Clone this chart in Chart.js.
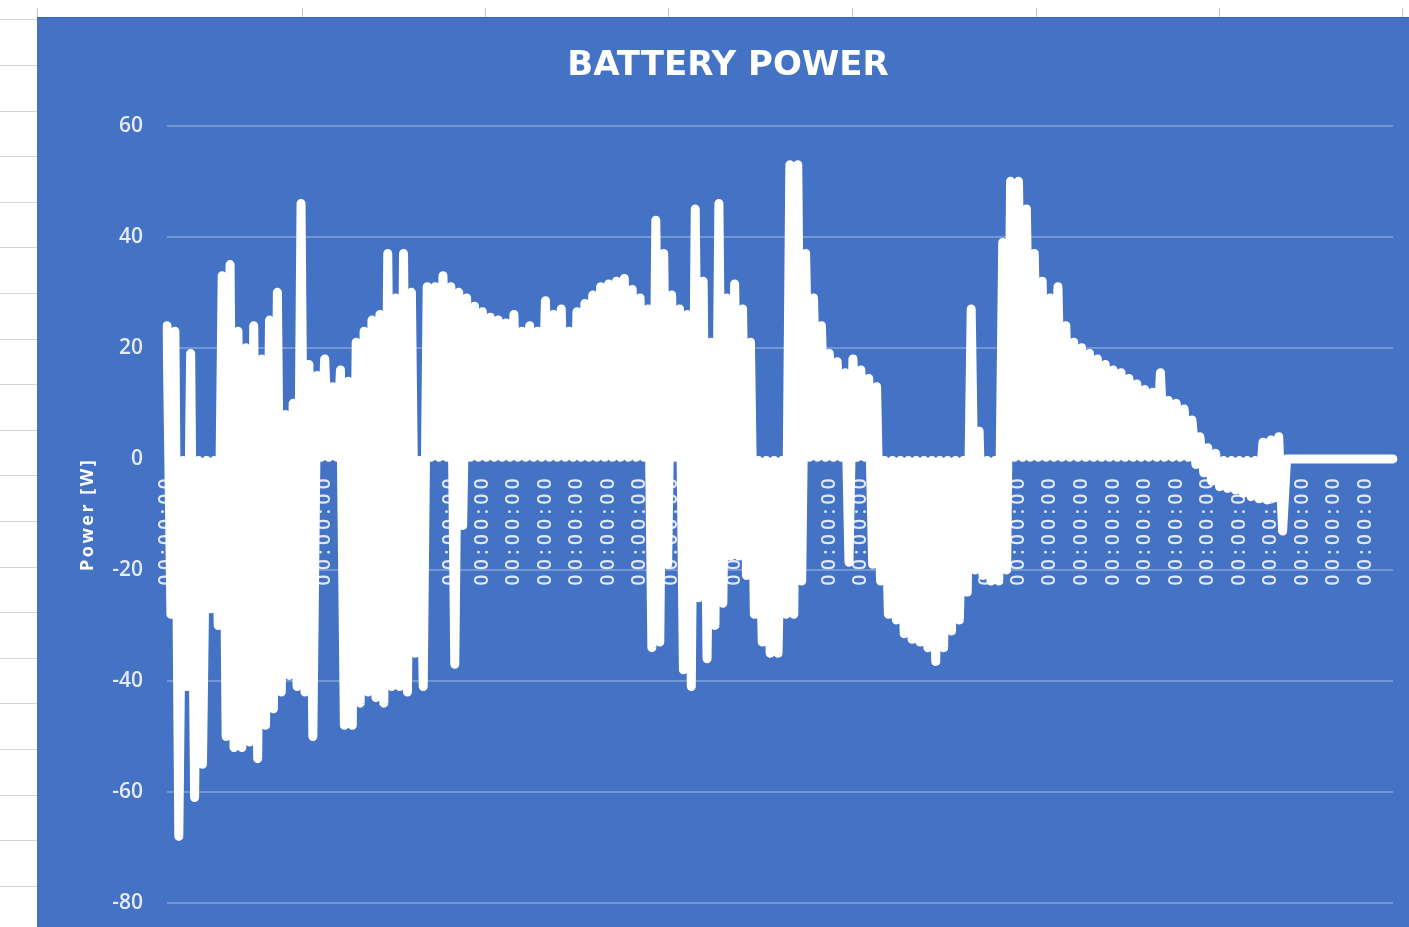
<!DOCTYPE html>
<html>
<head>
<meta charset="utf-8">
<script src="https://cdn.jsdelivr.net/npm/chart.js@4.4.1/dist/chart.umd.min.js"></script>
<style>
  html, body { margin: 0; padding: 0; background: #ffffff; width: 1409px; height: 927px; overflow: hidden; }
  #sheetLeft { position: absolute; left: 0; top: 17px; width: 37px; height: 910px;
    background: repeating-linear-gradient(to bottom, transparent 0px, transparent 2.4px, #d4d4d4 2.4px, #d4d4d4 3.4px, transparent 3.4px, transparent 45.6px); }
  .colLine { position: absolute; top: 8px; width: 1px; height: 9px; background: #c6c6c6; }
  #wrap { position: absolute; left: 37px; top: 17px; width: 1372px; height: 910px; background: #4472c4; border-top: 1px solid #3e66b0; box-sizing: border-box; }
  #wrap canvas { position: absolute; left: 0; top: 0; }
</style>
</head>
<body>
<div id="sheetLeft"></div>
<div class="colLine" style="left:37px"></div>
<div class="colLine" style="left:302px"></div>
<div class="colLine" style="left:485px"></div>
<div class="colLine" style="left:668px"></div>
<div class="colLine" style="left:852px"></div>
<div class="colLine" style="left:1036px"></div>
<div class="colLine" style="left:1219px"></div>
<div class="colLine" style="left:1402px"></div>
<div id="wrap"><canvas id="c" width="1372" height="909"></canvas></div>
<script>
// ---- data (W) ----
// upper excursion of each sample pair
const powerUpper = [
  24, 23, -0.3, 19, -0.3, -0.3, -0.3, 33, 35, 23,
  20, 24, 18, 25, 30, 8, 10, 46, 17, 15,
  18, 13, 16, 14, 21, 23, 25, 26, 37, 29,
  37, 30, -0.3, 31, 31, 33, 31, 30, 29, 27.5,
  26.5, 25.5, 25, 24.5, 26, 23, 24, 23, 28.5, 26,
  27, 23, 26.5, 28, 29.5, 31, 31.5, 32, 32.5, 30.5,
  29, 27, 43, 37, 29.5, 27, 26, 45, 32, 21,
  46, 29, 31.5, 27, 21, -0.3, -0.3, -0.3, -0.3, 53,
  53, 37, 29, 24, 19, 17.5, 15.5, 18, 16, 14.5,
  13, -0.3, -0.3, -0.3, -0.3, -0.3, -0.3, -0.3, -0.3, -0.3,
  -0.3, -0.3, 27, 5, -0.3, -0.3, 39, 50, 50, 45,
  37, 32, 29, 31, 24, 21, 20, 19, 18, 17,
  16, 15.5, 14.5, 13.5, 12.5, 12, 15.5, 10.5, 10, 9,
  7, 4, 2, 1, -0.3, -0.3, -0.3, -0.3, -0.3, 3,
  3.4, 4, 0, 0, 0, 0, 0, 0, 0, 0,
  0, 0, 0, 0, 0, 0
];
// lower excursion of each sample pair
const powerLower = [
  -28, -68, -41, -61, -55, -27, -30, -50, -52, -52,
  -51, -54, -48, -45, -42, -39, -41, -42, -50, 0.3,
  0.3, 0.3, -48, -48, -44, -42, -43, -44, -41, -41,
  -42, -35, -41, 0.3, 0.3, 0.3, -37, -12, 0.3, 0.3,
  0.3, 0.3, 0.3, 0.3, 0.3, 0.3, 0.3, 0.3, 0.3, 0.3,
  0.3, 0.3, 0.3, 0.3, 0.3, 0.3, 0.3, 0.3, 0.3, 0.3,
  0.3, -34, -33, -19, 0.3, -38, -41, -25, -36, -30,
  -26, -17.5, -17.5, -21, -28, -33, -35, -35, -28, -28,
  -22, 0.3, 0.3, 0.3, 0.3, 0.3, -18.6, 0.3, 0.3, -19,
  -22, -28, -29, -31.5, -32.5, -33, -34, -36.5, -34, -31,
  -29, -24, -20, -21, -22, -22, -20, 0.3, 0.3, 0.3,
  0.3, 0.3, 0.3, 0.3, 0.3, 0.3, 0.3, 0.3, 0.3, 0.3,
  0.3, 0.3, 0.3, 0.3, 0.3, 0.3, 0.3, 0.3, 0.3, 0.3,
  -1, -2.5, -4, -5, -5.3, -5.6, -6.2, -6.8, -7.2, -7.4,
  -7, -13, 0, 0, 0, 0, 0, 0, 0, 0,
  0, 0, 0, 0, 0, 0
];
const powerTicks = [-80, -60, -40, -20, 0, 20, 40, 60];
const timeText = '00:00:00';
const labelEvery = 8;

// series and categories built from the arrays above
const powerSeries = [];
powerUpper.forEach((v, i) => { powerSeries.push(v, powerLower[i]); });
const timeLabels = powerSeries.map(() => timeText);

// ---- scales with letter-spaced text (Excel-like wide rendering) ----
class SpacedCategoryScale extends Chart.CategoryScale {
  drawLabels(area) {
    const ctx = this.ctx; ctx.save();
    ctx.letterSpacing = '4.5px';
    super.drawLabels(area);
    ctx.restore();
  }
}
SpacedCategoryScale.id = 'spacedCategory';
class SpacedLinearScale extends Chart.LinearScale {
  drawTitle() {
    const ctx = this.ctx; ctx.save();
    ctx.letterSpacing = '2.5px';
    super.drawTitle();
    ctx.restore();
  }
}
SpacedLinearScale.id = 'spacedLinear';
Chart.register(SpacedCategoryScale, SpacedLinearScale);

new Chart(document.getElementById('c'), {
  type: 'line',
  data: {
    labels: timeLabels,
    datasets: [{
      label: 'Battery power',
      data: powerSeries,
      borderColor: '#ffffff',
      backgroundColor: '#ffffff',
      borderWidth: 9,
      pointRadius: 0,
      tension: 0,
      fill: 'origin',
      borderJoinStyle: 'round',
      borderCapStyle: 'round'
    }]
  },
  options: {
    responsive: false,
    animation: false,
    events: [],
    layout: { padding: { left: 26, right: 16, top: 0, bottom: 24 } },
    plugins: {
      legend: { display: false },
      tooltip: { enabled: false },
      title: {
        display: true,
        text: 'BATTERY POWER',
        color: '#ffffff',
        font: { family: 'DejaVu Sans', size: 34, weight: 'bold' },
        padding: { top: 28, bottom: 39 }
      }
    },
    scales: {
      x: {
        type: 'spacedCategory',
        axis: 'x',
        position: { y: 0 },
        offset: false,
        grid: { display: false, drawTicks: false },
        border: { display: false },
        ticks: {
          autoSkip: false,
          maxRotation: 90,
          minRotation: 90,
          padding: 15,
          color: '#e2e9f6',
          font: { family: 'Open Sans', size: 19, weight: '600' },
          callback: function (v, i) { return i % labelEvery === 0 ? this.getLabelForValue(v) : ''; }
        },
        afterFit: (s) => { s.height = 0; s.paddingLeft = 0; s.paddingRight = 0; }
      },
      y: {
        type: 'spacedLinear',
        axis: 'y',
        min: powerTicks[0],
        max: powerTicks[powerTicks.length - 1],
        afterBuildTicks: (s) => { s.ticks = powerTicks.map(v => ({ value: v })); },
        grid: { color: '#7396d5', lineWidth: 2, drawTicks: false },
        border: { display: false },
        ticks: {
          padding: 24,
          color: '#e6ecf7',
          font: { family: 'Open Sans', size: 21, weight: '600' }
        },
        title: {
          display: true,
          text: 'Power [W]',
          color: '#ffffff',
          font: { family: 'Open Sans', size: 18, weight: 'bold' },
          padding: { top: 14, bottom: 0 }
        },
        afterFit: (s) => { s.width = 104; s.paddingTop = 0; s.paddingBottom = 0; }
      }
    }
  }
});
</script>
</body>
</html>
